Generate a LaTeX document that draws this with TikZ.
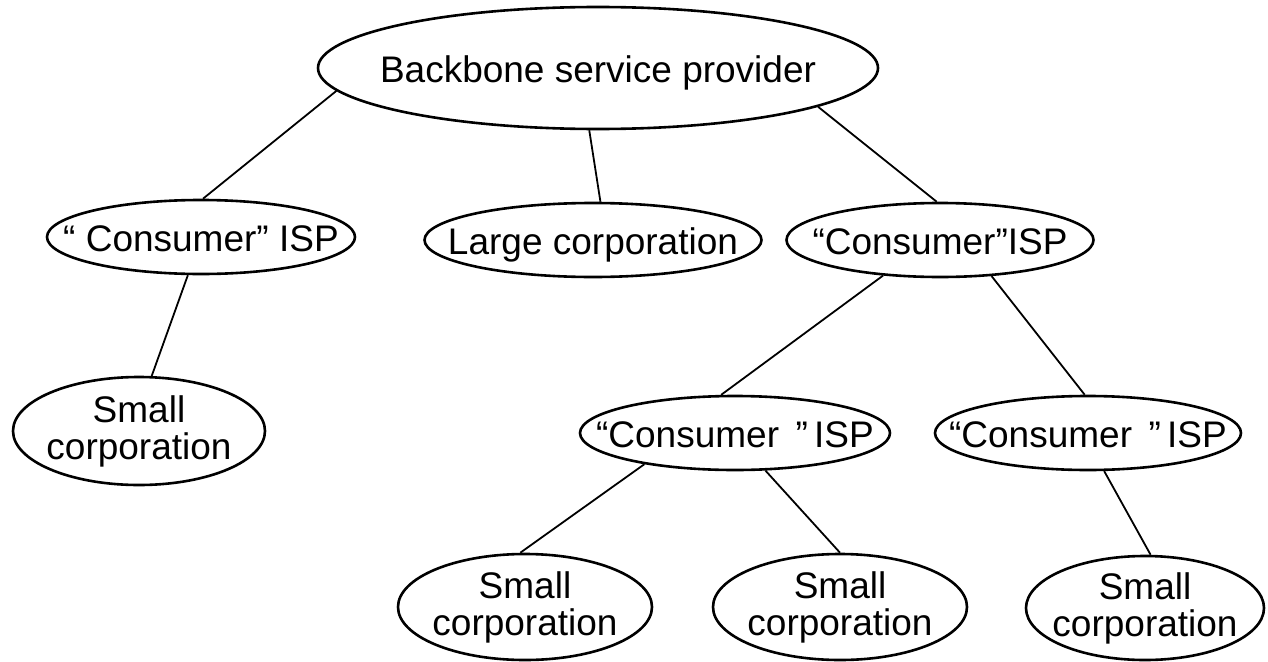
\documentclass[tikz,border=0pt]{standalone}
\usepackage{fontspec}
\setmainfont{Liberation Sans}
\usetikzlibrary{shapes.geometric}
\newcommand\oneline[1]{\makebox[0pt]{\raisebox{-0.4em}[0pt][0pt]{#1}}}
\newcommand\twoline[2]{\makebox[0pt]{\raisebox{0.24em}[0pt][0pt]{\makebox[0pt]{#1}}}\makebox[0pt]{\raisebox{-0.77em}[0pt][0pt]{\makebox[0pt]{#2}}}}
\begin{document}
\begin{tikzpicture}[x=1pt,y=-1pt,
  ell/.style={ellipse,draw,line width=2.6pt,inner sep=0pt,font=\fontsize{37}{37}\selectfont},
  link/.style={line width=1.8pt}]
\useasboundingbox (0,0) rectangle (1268,661);
% nodes
\node[ell,minimum width=560pt,minimum height=122pt] (bsp) at (598,68) {\oneline{Backbone service provider}};
\node[ell,minimum width=308pt,minimum height=74pt] (ispa) at (201,237) {\oneline{“ Consumer” ISP}};
\node[ell,minimum width=337pt,minimum height=74pt] (large) at (593,240) {\oneline{Large corporation}};
\node[ell,minimum width=307pt,minimum height=74pt] (ispb) at (940,240) {\oneline{“Consumer”ISP}};
\node[ell,minimum width=252pt,minimum height=108pt] (sca) at (139,431) {\twoline{Small}{corporation}};
\node[ell,minimum width=310pt,minimum height=74pt] (ispc) at (735,433) {\oneline{“Consumer\hspace{0.45em}”\,ISP}};
\node[ell,minimum width=306pt,minimum height=74pt] (ispd) at (1088,433) {\oneline{“Consumer\hspace{0.45em}”\,ISP}};
\node[ell,minimum width=254pt,minimum height=106pt] (scb) at (525,607) {\twoline{Small}{corporation}};
\node[ell,minimum width=254pt,minimum height=106pt] (scc) at (840,607) {\twoline{Small}{corporation}};
\node[ell,minimum width=238pt,minimum height=104pt] (scd) at (1145,608) {\twoline{Small}{corporation}};
% connectors
\draw[link] (bsp.185) -- (ispa.87);
\draw[link] (bsp.262) -- (large.79);
\draw[link] (bsp.350) -- (ispb.95);
\draw[link] (ispa.251) -- (sca.77);
\draw[link] (ispb.212) -- (ispc.110);
\draw[link] (ispb.325) -- (ispd.95);
\draw[link] (ispc.199) -- (scb.95);
\draw[link] (ispc.309) -- (scc.90);
\draw[link] (ispd.293) -- (scd.84);
\end{tikzpicture}
\end{document}
